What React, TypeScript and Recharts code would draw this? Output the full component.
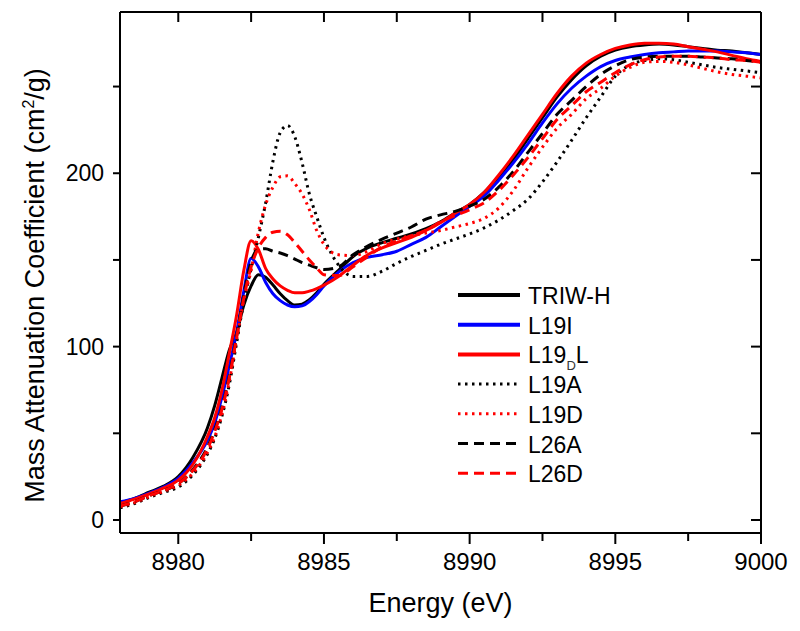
import { Legend, Line, LineChart, XAxis, YAxis } from "recharts";

const energy = [
  8978, 8978.5, 8979, 8979.5, 8980, 8980.5, 8981, 8981.25, 8981.5, 8981.75,
  8982, 8982.25, 8982.5, 8982.75, 8983, 8983.25, 8983.5, 8983.75, 8984, 8984.25,
  8984.5, 8984.75, 8985, 8985.5, 8986, 8986.5, 8987, 8987.5, 8988, 8988.5,
  8989, 8989.5, 8990, 8990.5, 8991, 8991.5, 8992, 8992.5, 8993, 8993.5,
  8994, 8994.5, 8995, 8995.5, 8996, 8996.5, 8997, 8997.5, 8998, 8998.5,
  8999, 8999.5, 9000,
];

const triwH = [
  10, 12.5, 16, 19.5, 25, 36, 53, 66, 82, 98,
  108, 124, 135, 141.5, 140, 135.5, 130.5, 126.5, 124, 124.5,
  127, 131, 136, 144, 152, 157, 160, 162.5, 165, 168,
  172, 177, 182, 189, 198, 208, 220, 232, 244, 254,
  262, 267.5, 271, 273, 274, 274.5, 274, 273, 272, 271,
  270.5, 269.5, 268.5,
];

const l19i = [
  10.5, 12.5, 15.5, 19, 24, 33, 46, 56, 71, 89,
  108, 132, 151, 146, 137, 130.5, 126.5, 124, 123, 123.5,
  126, 130, 135, 143, 148.5, 151.5, 153, 155, 159, 163,
  169, 175, 181, 187, 196, 206, 217, 229, 240, 249,
  256, 261.5, 265, 267, 268.5, 269.5, 270, 270.5, 270.5, 270.5,
  270, 269.5, 268.5,
];

const l19dl = [
  9.5, 12, 15, 18.5, 23, 32, 48, 59, 75, 96,
  118, 144, 161, 156, 145, 139, 135, 132.5, 131, 131,
  132, 133.5, 135.5, 140.5, 147, 153, 157, 160, 163, 167,
  171.5, 177, 182, 189, 199, 210, 222, 234, 246, 256,
  263.5, 268.5, 272, 274, 275, 275, 274.5, 273, 271.5, 270,
  268, 266, 264.5,
];

const l19a = [
  7, 9.5, 13, 16, 19, 26, 38, 47, 60, 78,
  102, 126, 145, 163, 183, 207, 223.5, 227.5, 221, 206,
  188, 175, 163, 147, 140.5, 140.5, 143.5, 148, 152, 155.5,
  159, 162, 165, 168.5, 173, 178.5, 185, 195, 206.5, 219,
  232, 244, 256, 262.5, 265, 266, 265.5, 264, 262.5, 261,
  260, 259, 258,
];

const l19d = [
  7.5, 10, 13.5, 16.5, 20, 27, 39, 48, 61, 80,
  104, 127, 144, 166, 182, 192, 198, 198.5, 194, 188,
  179, 167, 159, 153, 152.5, 155, 159.5, 162, 164, 165.5,
  167, 169, 171, 174, 180, 190, 203, 215, 226, 234,
  243, 249, 256, 261, 264, 264.5, 264, 262.5, 260.5, 258.5,
  257, 256, 255,
];

const l26a = [
  8, 10.5, 14, 17, 21, 29, 42, 52, 65, 83,
  106, 130, 149, 156, 156.5, 155, 154, 152.5, 150.5, 148.5,
  147, 145.5, 144.5, 146, 153, 158, 162, 165.5, 169, 173.5,
  176, 178, 181, 185, 192, 201, 212, 223, 234, 242,
  250, 257, 262, 265.5, 267, 267.5, 267.5, 267.5, 267, 266.5,
  266, 265, 264,
];

const l26d = [
  8, 10.5, 14, 17, 21, 28.5, 41, 51, 64, 82,
  105, 128, 146, 157, 163, 166, 166.5, 164.5, 160, 155,
  150, 145.5, 141.5, 141, 146, 152, 157.5, 161, 164, 167,
  172, 175.5, 179, 183, 190, 199, 209, 220, 231, 239,
  247, 252.5, 258, 262.5, 265.5, 267, 267.5, 267.5, 267, 266.5,
  265.5, 265, 264,
];

const xTicks = [8980, 8982.5, 8985, 8987.5, 8990, 8992.5, 8995, 8997.5, 9000];
const yTicks = [0, 50, 100, 150, 200, 250];

const data = energy.map((e, i) => ({
  e,
  triwH: triwH[i],
  l19i: l19i[i],
  l19dl: l19dl[i],
  l19a: l19a[i],
  l19d: l19d[i],
  l26a: l26a[i],
  l26d: l26d[i],
}));

const FONT = '"Liberation Sans", Arial, Helvetica, sans-serif';
const DOTS = "2.5 4.5";
const DASHES = "10 6";

const SERIES = [
  { key: "triwH", name: "TRIW-H", color: "#000000", dash: undefined },
  { key: "l19i", name: "L19I", color: "#0000ff", dash: undefined },
  { key: "l19dl", name: "L19DL", color: "#ff0000", dash: undefined },
  { key: "l19a", name: "L19A", color: "#000000", dash: DOTS },
  { key: "l19d", name: "L19D", color: "#ff0000", dash: DOTS },
  { key: "l26a", name: "L26A", color: "#000000", dash: DASHES },
  { key: "l26d", name: "L26D", color: "#ff0000", dash: DASHES },
];

// bottom axis: long ticks with labels every 5 eV, short ones in between
function BottomTick(props: any) {
  const { x, y, payload } = props;
  const major = payload.value % 5 === 0;
  return (
    <g>
      <line x1={x} x2={x} y1={y} y2={y + (major ? 11 : 8)} stroke="#000" strokeWidth={2} />
      {major && (
        <text x={x} y={y + 37} textAnchor="middle" fontSize={24} fontFamily={FONT} fill="#000">
          {payload.value}
        </text>
      )}
    </g>
  );
}

function XTitle(props: any) {
  const { viewBox } = props;
  return (
    <text
      x={viewBox.x + viewBox.width / 2}
      y={viewBox.y + 79}
      textAnchor="middle"
      fontSize={27}
      fontFamily={FONT}
      fill="#000"
    >
      Energy (eV)
    </text>
  );
}

function YTitle(props: any) {
  const { viewBox } = props;
  const cy = viewBox.y + viewBox.height / 2 + 13;
  return (
    <text
      transform={`translate(44, ${cy}) rotate(-90)`}
      textAnchor="middle"
      fontSize={27}
      fontFamily={FONT}
      fill="#000"
    >
      Mass Attenuation Coefficient (cm
      <tspan dy={-10} fontSize={16}>2</tspan>
      <tspan dy={10}>/g)</tspan>
    </text>
  );
}

function LegendBox() {
  return (
    <svg width={200} height={215} style={{ display: "block" }}>
      {SERIES.map((s, i) => {
        const y = 15 + i * 29.7;
        return (
          <g key={s.key}>
            <line
              x1={8}
              x2={70}
              y1={y}
              y2={y}
              stroke={s.color}
              strokeWidth={s.dash ? 3 : 4}
              strokeDasharray={s.dash}
            />
            <text x={78} y={y + 9} fontSize={23} fontFamily={FONT} fill="#000">
              {s.key === "l19dl" ? (
                <>
                  L19
                  <tspan dy={7} fontSize={13} fill="#333">
                    D
                  </tspan>
                  <tspan dy={-7}>L</tspan>
                </>
              ) : (
                s.name
              )}
            </text>
          </g>
        );
      })}
    </svg>
  );
}

export default function App() {
  return (
    <div style={{ position: "absolute", left: 0, top: 0, background: "#fff" }}>
      <LineChart width={800} height={631} data={data} margin={{ top: 12, right: 39, bottom: 0, left: 0 }}>
        <XAxis
          xAxisId="bottom"
          dataKey="e"
          type="number"
          domain={[8978, 9000]}
          allowDataOverflow
          ticks={xTicks}
          interval={0}
          tick={<BottomTick />}
          tickLine={false}
          tickSize={0}
          tickMargin={0}
          height={98}
          axisLine={{ stroke: "#000", strokeWidth: 2 }}
          label={<XTitle />}
        />
        <XAxis
          xAxisId="top"
          orientation="top"
          dataKey="e"
          type="number"
          domain={[8978, 9000]}
          allowDataOverflow
          ticks={xTicks}
          interval={0}
          mirror
          height={1}
          tickSize={10}
          tickFormatter={() => ""}
          tickLine={{ stroke: "#000", strokeWidth: 2 }}
          axisLine={{ stroke: "#000", strokeWidth: 2 }}
        />
        <YAxis
          yAxisId="left"
          type="number"
          domain={[-7.5, 293]}
          allowDataOverflow
          ticks={yTicks}
          interval={0}
          width={120}
          tickSize={7}
          tickMargin={9}
          tickFormatter={(v: number) => (v % 100 === 0 ? String(v) : "")}
          tick={{ fontSize: 23, fontFamily: FONT, fill: "#000" }}
          tickLine={{ stroke: "#000", strokeWidth: 2 }}
          axisLine={{ stroke: "#000", strokeWidth: 2 }}
          label={<YTitle />}
        />
        <YAxis
          yAxisId="right"
          orientation="right"
          type="number"
          domain={[-7.5, 293]}
          allowDataOverflow
          ticks={yTicks}
          interval={0}
          mirror
          width={1}
          tickSize={10}
          tickFormatter={() => ""}
          tickLine={{ stroke: "#000", strokeWidth: 2 }}
          axisLine={{ stroke: "#000", strokeWidth: 2 }}
        />
        {SERIES.map((s) => (
          <Line
            key={s.key}
            xAxisId="bottom"
            yAxisId="left"
            type="monotone"
            dataKey={s.key}
            name={s.name}
            stroke={s.color}
            strokeWidth={3}
            strokeDasharray={s.dash}
            dot={false}
            activeDot={false}
            isAnimationActive={false}
          />
        ))}
        <Legend
          layout="vertical"
          align="center"
          verticalAlign="middle"
          content={() => <LegendBox />}
          wrapperStyle={{ left: 450, top: 280, width: 200 }}
        />
      </LineChart>
    </div>
  );
}
